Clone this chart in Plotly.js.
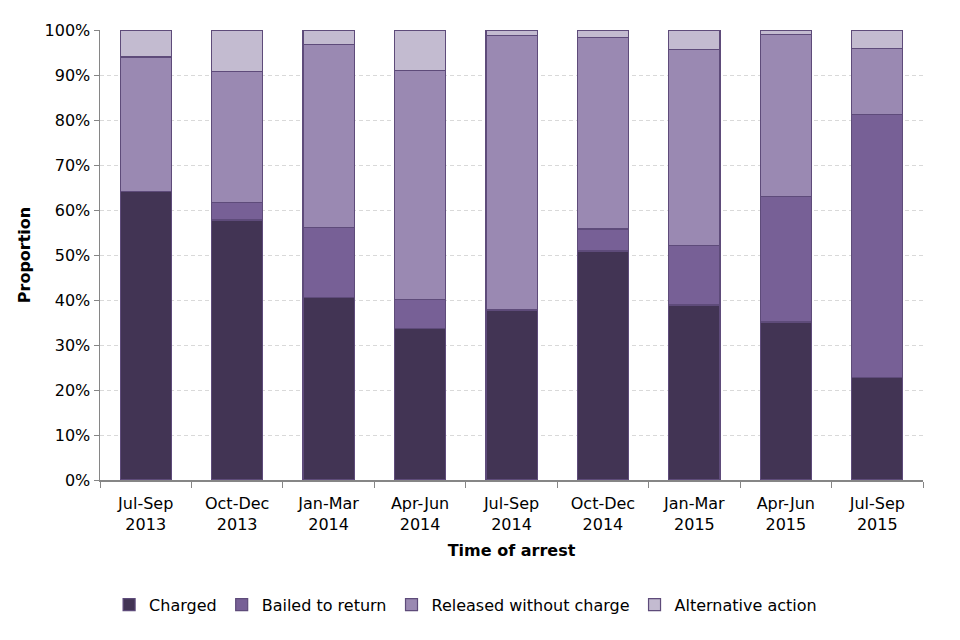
<!DOCTYPE html>
<html>
<head>
<meta charset="utf-8">
<script src="https://cdn.plot.ly/plotly-3.0.1.min.js"></script>
<style>html,body{margin:0;padding:0;background:#fff;}#chart{width:960px;height:640px;}</style>
</head>
<body>
<div id="chart"></div>
<script>
const categories = ["Jul-Sep<br>2013","Oct-Dec<br>2013","Jan-Mar<br>2014","Apr-Jun<br>2014","Jul-Sep<br>2014","Oct-Dec<br>2014","Jan-Mar<br>2015","Apr-Jun<br>2015","Jul-Sep<br>2015"];
const charged = [64.2, 57.8, 40.5, 33.7, 37.8, 50.9, 38.9, 35.1, 22.8];
const bailed = [0, 3.8, 15.7, 6.5, 0, 4.9, 13.3, 27.9, 58.5];
const released = [29.8, 29.1, 40.5, 50.8, 60.9, 42.5, 43.4, 36.0, 14.6];
const alternative = [6.0, 9.3, 3.3, 9.0, 1.3, 1.7, 4.4, 1.0, 4.1];
const seriesNames = ["Charged", "Bailed to return", "Released without charge", "Alternative action"];
const colors = ["#423454", "#776096", "#9a89b2", "#c3bbd0"];
const tickVals = [0,10,20,30,40,50,60,70,80,90,100];
const tickText = ["0%","10%","20%","30%","40%","50%","60%","70%","80%","90%","100%"];

const values = [charged, bailed, released, alternative];
const traces = values.map((v, i) => ({
  type: "bar",
  name: seriesNames[i],
  x: categories,
  y: v,
  marker: {color: colors[i], line: {color: "#5e4b7a", width: 1.2}},
  hoverinfo: "y+name"
}));

const font = "DejaVu Sans, Verdana, sans-serif";
const layout = {
  width: 960, height: 640,
  barmode: "stack",
  bargap: 0.44,
  margin: {l: 100, r: 37, t: 30, b: 160},
  paper_bgcolor: "#fff", plot_bgcolor: "#fff",
  font: {family: font, size: 16, color: "#000"},
  showlegend: true,
  legend: {orientation: "h", xref: "container", x: 0.485, xanchor: "center", yref: "container", y: 0.055, yanchor: "middle",
           font: {family: font, size: 16, color: "#000"}, itemwidth: 30, traceorder: "normal"},
  xaxis: {
    type: "category",
    showline: true, linecolor: "#868686", linewidth: 1.5,
    ticks: "outside", tickson: "boundaries", ticklen: 6, tickcolor: "#868686",
    ticklabelstandoff: 8,
    showgrid: false,
    tickfont: {family: font, size: 16, color: "#000"},
    title: {text: "<b>Time of arrest</b>", font: {family: font, size: 16, color: "#000"}, standoff: 12}
  },
  yaxis: {
    range: [0, 100],
    tickvals: tickVals,
    ticktext: tickText,
    showline: true, linecolor: "#868686", linewidth: 1.5,
    ticks: "outside", ticklen: 5, tickcolor: "#868686",
    showgrid: true, gridcolor: "#d9d9d9", griddash: "4px,3px", gridwidth: 1,
    zeroline: false,
    tickfont: {family: font, size: 16, color: "#000"},
    title: {text: "<b>Proportion</b>", font: {family: font, size: 16, color: "#000"}, standoff: 10}
  }
};

Plotly.newPlot("chart", traces, layout, {displayModeBar: false, staticPlot: true});
</script>
</body>
</html>
